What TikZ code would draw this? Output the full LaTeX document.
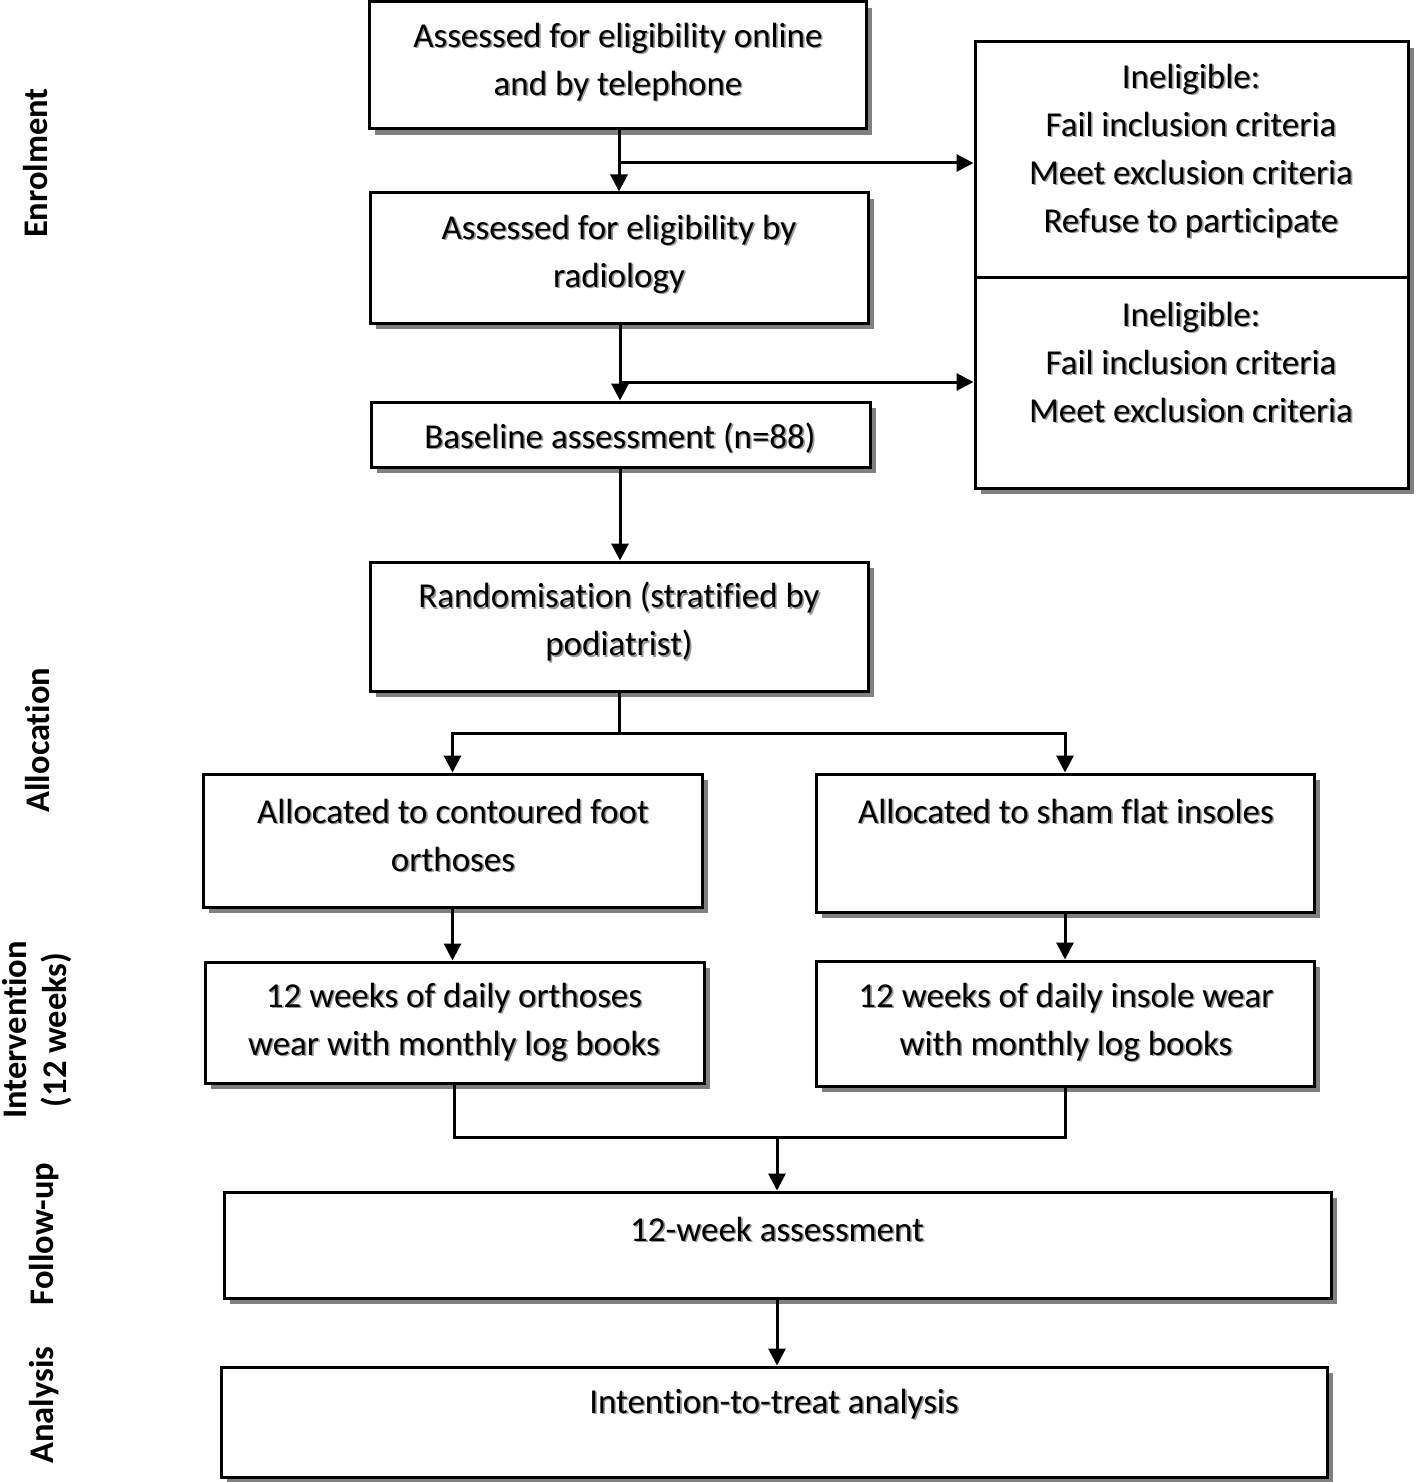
\documentclass[tikz,border=0pt]{standalone}
\usepackage{fontspec}
\setmainfont{Carlito}[Ligatures=NoCommon]
\usetikzlibrary{arrows.meta,shadows,calc}
\newcommand\stxt[3]{%
  \node[txt,text=black!40] at ($(#1)+(1.6,1.6)$) {#3};%
  \node[txt] (#2) at (#1) {#3};}
\begin{document}
\begin{tikzpicture}[x=1pt,y=-1pt,
 box/.style={draw,line width=3pt,fill=white,inner sep=0,
   drop shadow={shadow xshift=6pt,shadow yshift=-6pt,fill=black!50,opacity=1}},
 txt/.style={font=\fontsize{35}{48}\selectfont,align=center,inner sep=0},
 side/.style={font=\fontsize{34.5}{40}\selectfont\bfseries,align=center,rotate=90,inner sep=0},
 arr/.style={line width=3pt,-{Triangle[length=17pt,width=17pt]}},
 ln/.style={line width=3pt}]
\useasboundingbox (0,0) rectangle (1418,1482);
% boxes
\node[box,minimum width=497pt,minimum height=127pt] (A) at (617.5,65.5) {};
\node[box,minimum width=498pt,minimum height=130pt] (B) at (619,258) {};
\node[box,minimum width=499pt,minimum height=65pt] (C) at (620.5,434.5) {};
\node[box,minimum width=433pt,minimum height=235pt] (I1) at (1191.5,159.5) {};
\node[box,minimum width=433pt,minimum height=211pt] (I2) at (1191.5,382.5) {};
\node[box,minimum width=498pt,minimum height=129pt] (R) at (619,626.5) {};
\node[box,minimum width=499pt,minimum height=133pt] (L1) at (452.5,840.5) {};
\node[box,minimum width=498pt,minimum height=138pt] (R1) at (1065,843) {};
\node[box,minimum width=499pt,minimum height=121pt] (L2) at (454.5,1022.5) {};
\node[box,minimum width=498pt,minimum height=125pt] (R2) at (1065,1023.5) {};
\node[box,minimum width=1107pt,minimum height=106pt] (F) at (777.5,1245) {};
\node[box,minimum width=1106pt,minimum height=110pt] (An) at (774,1422) {};
% texts
\stxt{618,62}{tA}{Assessed for eligibility online\\and by telephone}
\stxt{619,254}{tB}{Assessed for eligibility by\\radiology}
\stxt{620,438}{tC}{Baseline assessment (n=88)}
\stxt{1191,151}{tI1}{Ineligible:\\Fail inclusion criteria\\Meet exclusion criteria\\Refuse to participate}
\stxt{1191,362}{tI2}{Ineligible:\\Fail inclusion criteria\\Meet exclusion criteria}
\stxt{619,622}{tR}{Randomisation (stratified by\\podiatrist)}
\stxt{453,835}{tL1}{Allocated to contoured foot\\orthoses}
\stxt{1066,811}{tR1}{Allocated to sham flat insoles}
\stxt{454,1022}{tL2}{12 weeks of daily orthoses\\wear with monthly log books}
\stxt{1066,1022}{tR2}{12 weeks of daily insole wear\\with monthly log books}
\stxt{777,1229}{tF}{12-week assessment}
\stxt{774,1404}{tAn}{Intention-to-treat analysis}
% side labels
\node[side] (s1) at (36,163) {Enrolment};
\node[side] (s2) at (38,740) {Allocation};
\node[side] (s3) at (37,1030) {Intervention\\(12 weeks)};
\node[side] (s4) at (44,1234) {Follow-up};
\node[side] (s5) at (44,1405) {Analysis};
% connectors
\coordinate (j1) at (619,163);
\coordinate (j2) at (620,382);
\coordinate (s) at (619,733);
\coordinate (m) at (777,1137);
\draw[arr] (A.south -| j1) -- (B.north -| j1);
\draw[arr] (j1) -- (j1 -| I1.west);
\draw[arr] (B.south -| j2) -- (C.north -| j2);
\draw[arr] (j2) -- (j2 -| I2.west);
\draw[arr] (C.south -| j2) -- (R.north -| j2);
\draw[ln] (R.south) -- (s);
\draw[arr] (s) -| (L1.north);
\draw[arr] (s) -| (R1.north);
\draw[arr] (L1.south) -- (L1.south |- L2.north);
\draw[arr] (R1.south) -- (R2.north);
\draw[ln] (L2.south) -- (L2.south |- m) -- (m -| R2.south) -- (R2.south);
\draw[arr] (m) -- (m |- F.north);
\draw[arr] (F.south -| m) -- (An.north -| m);
\end{tikzpicture}
\end{document}
